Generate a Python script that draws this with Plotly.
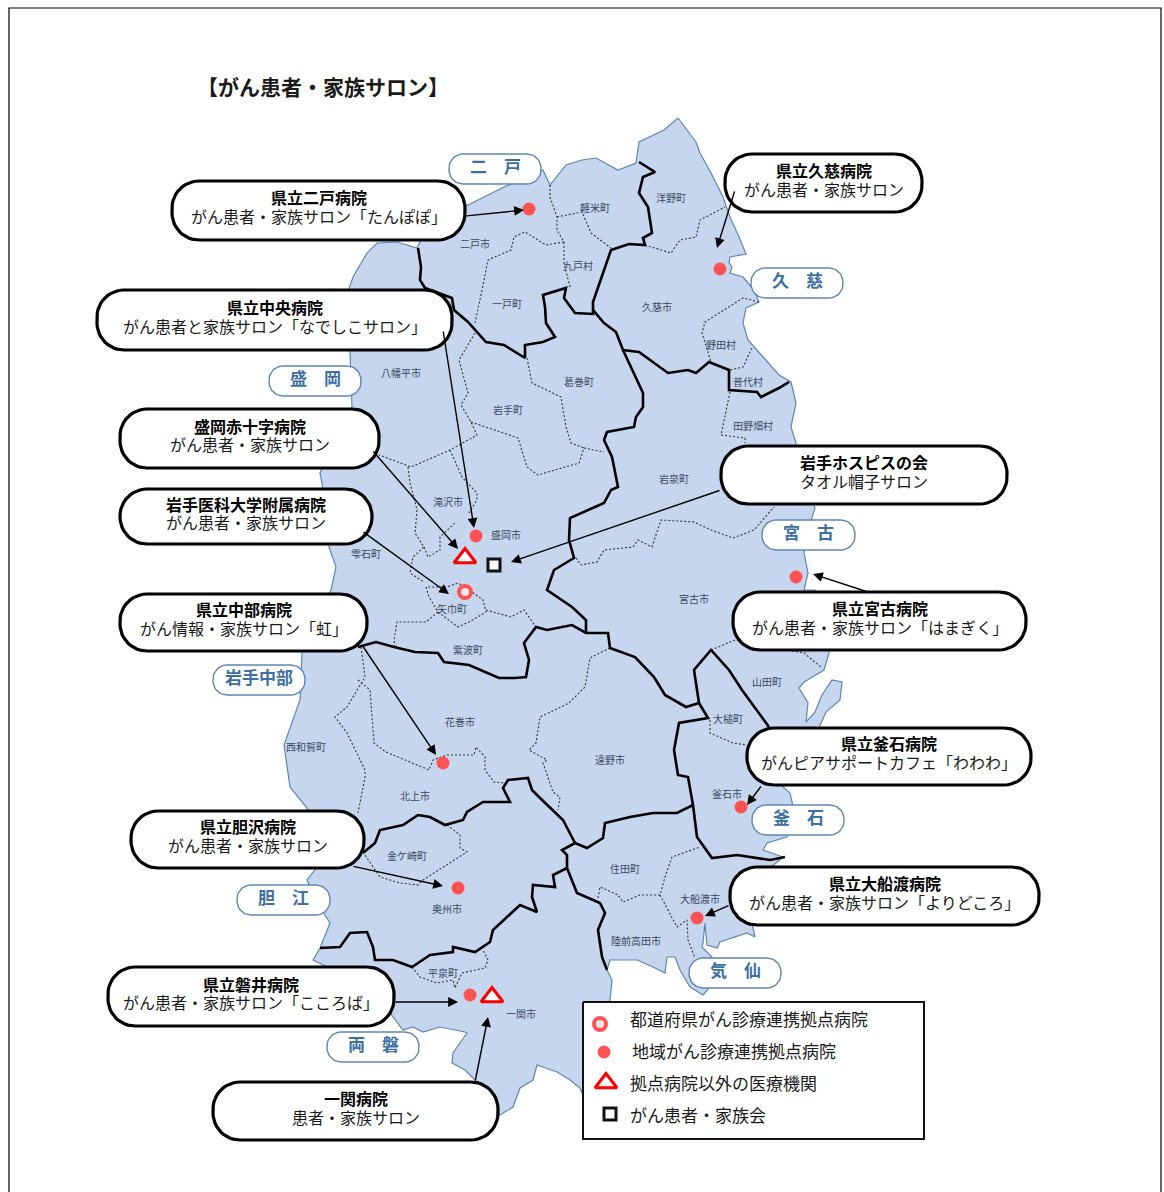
import math
import plotly.graph_objects as go

FONT = "Liberation Sans, Noto Sans CJK JP"
LAND = "#C5D6EE"
COAST = "#5E86B4"
RED = "#FF5252"
TXT = "#111111"

title = "【がん患者・家族サロン】"

outline = [(678,118),(696,142),(700,153),(711,173),(723,197),(730,217),(739,237),(746,254),(730,257),(729,263),(732,267),(730,273),(743,277),(754,290),(759,302),(746,308),(743,323),(748,340),(764,358),(779,375),(791,382),(796,403),(791,427),(796,443),(800,470),(815,508),(808,530),(804,553),(808,573),(804,590),(815,590),(825,610),(829,653),(824,670),(804,682),(799,688),(808,703),(806,722),(815,712),(822,695),(832,680),(842,682),(840,700),(826,712),(818,730),(780,770),(783,787),(790,793),(795,815),(787,837),(767,843),(763,850),(783,857),(770,868),(745,880),(750,915),(755,937),(747,933),(720,942),(717,948),(707,945),(705,923),(703,943),(702,947),(712,957),(720,975),(703,995),(690,987),(680,970),(675,957),(667,957),(665,973),(653,967),(637,960),(610,960),(607,970),(612,980),(610,1000),(590,1040),(582,1093),(580,1088),(570,1080),(557,1072),(537,1065),(533,1080),(520,1088),(513,1107),(500,1115),(475,1080),(465,1070),(452,1063),(453,1053),(467,1033),(465,1032),(440,1027),(423,1032),(413,1027),(403,1030),(393,1017),(375,990),(313,960),(320,948),(330,923),(325,915),(307,880),(320,863),(307,808),(290,787),(284,745),(300,700),(302,653),(331,590),(336,567),(329,547),(322,483),(320,473),(335,440),(352,407),(350,353),(345,300),(353,277),(367,253),(377,243),(397,242),(417,248),(420,242),(464,207),(504,187),(543,170),(550,185),(566,165),(582,160),(596,158),(618,170),(636,163),(639,142),(664,130),(678,118)]

thick_borders = [
 [(418,248),(421,267),(420,280),(425,288),(452,298),(454,310),(468,322),(486,342),(504,345),(525,358),(525,345),(543,342),(555,337),(546,323),(545,307),(543,295),(566,288),(564,298),(575,313),(593,314),(593,302),(604,270),(611,250),(629,244),(645,245),(643,238),(652,233),(648,207),(639,193),(643,177),(655,172),(639,162)],
 [(593,310),(604,323),(616,332),(623,350),(639,352),(668,373),(688,370),(696,373),(709,362),(729,370),(729,390),(757,392),(761,397),(779,388),(789,382)],
 [(623,350),(643,393),(643,407),(636,417),(634,427),(607,432),(604,440),(612,457),(618,487),(611,490),(604,503),(570,518),(569,540),(574,558),(554,570),(547,590),(572,607),(586,620),(586,632)],
 [(358,647),(376,642),(394,647),(415,652),(438,653),(444,662),(469,665),(499,678),(515,678),(526,677),(529,660),(524,643),(536,627),(547,630),(572,625),(586,633),(608,633),(610,648),(635,657),(654,677),(665,695),(686,707),(699,703)],
 [(699,703),(694,670),(711,650),(729,670),(742,690),(754,707),(769,727)],
 [(699,703),(708,718),(679,723),(674,750),(678,775),(688,777),(693,805),(695,822),(697,837),(712,858),(737,855),(770,860),(785,857)],
 [(693,805),(677,813),(653,813),(630,817),(605,823),(603,838),(587,848),(575,843),(562,850),(567,855),(567,868)],
 [(567,868),(577,893),(600,903),(605,913),(598,930),(602,957),(607,970)],
 [(567,868),(553,875),(555,887),(533,885),(532,897),(537,912),(520,905),(493,930),(490,942),(475,952),(453,947),(453,952),(430,955),(412,967),(393,960),(375,960),(373,947),(367,932),(350,933),(340,947),(320,948)],
 [(575,843),(563,820),(540,798),(532,790),(528,778),(508,780),(503,788),(510,802),(483,802),(467,812),(463,820),(445,825),(430,817),(418,815),(403,825),(380,830),(375,843),(363,853)],
]

dashed_borders = [
 [(550,185),(550,197),(557,217),(557,230),(564,242),(564,263),(570,287)],
 [(557,217),(582,212),(591,233),(611,248)],
 [(564,242),(546,245),(525,232),(514,237),(511,250),(488,260),(482,290),(475,323)],
 [(645,245),(671,253),(680,240),(696,237),(700,220),(725,207)],
 [(759,302),(743,298),(705,322),(702,333),(711,362)],
 [(752,348),(743,367),(730,370)],
 [(730,392),(723,427),(721,435),(745,438),(745,443)],
 [(475,333),(459,360),(468,393),(461,405),(471,422),(477,435),(450,450),(411,467),(379,455)],
 [(471,422),(518,438),(527,467),(538,475),(579,463),(584,448),(604,452)],
 [(527,358),(532,383),(561,397),(566,427),(571,443),(584,448)],
 [(408,467),(410,483),(417,510),(415,533),(424,547),(413,557),(410,573),(424,582)],
 [(424,547),(428,557),(440,550),(440,537),(456,522)],
 [(450,450),(462,477),(477,493),(477,500),(469,513)],
 [(426,587),(429,597),(438,612),(426,622),(397,622),(394,640),(395,647)],
 [(438,612),(458,627),(469,622),(486,612),(483,600),(472,592),(458,583),(447,587),(426,587)],
 [(486,610),(511,617),(524,610),(536,627)],
 [(576,558),(581,565),(597,562),(604,550),(633,547),(638,540),(652,547),(661,520),(694,522),(711,530),(733,538),(754,530),(774,507)],
 [(711,650),(735,640),(804,653),(822,668)],
 [(361,647),(365,677),(347,707),(335,717),(347,733),(365,770),(365,777),(358,813)],
 [(358,680),(370,690),(374,743),(386,752),(429,770),(433,760),(447,755),(474,755),(476,747),(485,757),(485,770),(494,782),(504,783)],
 [(610,648),(590,658),(585,687),(569,703),(540,717),(536,743),(529,750),(547,760),(543,763),(553,792),(560,797),(558,810)],
 [(447,825),(460,835),(460,848),(467,852),(423,880),(418,885),(400,883),(380,877),(365,855)],
 [(412,967),(420,977),(437,983),(453,980),(455,988),(462,973),(485,968),(488,960),(483,950)],
 [(598,898),(600,887),(618,895),(623,902),(640,895),(660,895),(665,877),(672,857),(700,847)],
 [(660,895),(677,927),(687,920),(688,940),(695,958)],
 [(710,720),(710,733),(733,743),(747,745)],
]

towns = [("軽米町",595,208),("洋野町",671,198),("二戸市",475,244),("九戸村",578,266),("一戸町",507,304),("久慈市",657,307),("野田村",721,345),("普代村",748,382),("田野畑村",753,426),("八幡平市",401,373),("岩手町",508,410),("葛巻町",579,382),("岩泉町",674,479),("滝沢市",448,502),("盛岡市",506,535),("雫石町",366,554),("宮古市",694,599),("矢巾町",452,609),("紫波町",468,650),("山田町",767,682),("大槌町",728,719),("花巻市",460,722),("遠野市",610,760),("西和賀町",306,747),("釜石市",727,794),("北上市",415,796),("金ケ崎町",407,856),("住田町",625,869),("大船渡市",700,899),("奥州市",447,909),("陸前高田市",636,941),("平泉町",443,973),("一関市",521,1014)]

areas = [("二　戸",449,541,154,184),("久　慈",751,843,268,298),("盛　岡",269,361,366,396),("宮　古",762,855,520,550),("岩手中部",213,305,665,695),("釜　石",752,844,805,835),("胆　江",237,330,885,915),("気　仙",689,781,958,988),("両　磐",327,419,1032,1062)]

callouts = [
 ("県立二戸病院","がん患者・家族サロン「たんぽぽ」",172,465,181,240,(465,216),(524,210)),
 ("県立中央病院","がん患者と家族サロン「なでしこサロン」",97,452,290,350,(443,330),(474,528)),
 ("盛岡赤十字病院","がん患者・家族サロン",120,379,409,468,(372,450),(458,549)),
 ("岩手医科大学附属病院","がん患者・家族サロン",120,372,489,544,(362,531),(449,594)),
 ("県立中部病院","がん情報・家族サロン「虹」",120,367,594,651,(362,645),(436,755)),
 ("県立胆沢病院","がん患者・家族サロン",131,364,811,868,(352,866),(443,886)),
 ("県立磐井病院","がん患者・家族サロン「こころば」",108,394,967,1026,(394,1002),(458,1002)),
 ("一関病院","患者・家族サロン",213,498,1082,1140,(475,1082),(488,1017)),
 ("県立久慈病院","がん患者・家族サロン",725,922,154,212,(735,190),(717,248)),
 ("岩手ホスピスの会","タオル帽子サロン",721,1007,446,504,(721,490),(511,562)),
 ("県立宮古病院","がん患者・家族サロン「はまぎく」",733,1026,592,650,(868,592),(813,574)),
 ("県立釜石病院","がんピアサポートカフェ「わわわ」",747,1031,728,785,(762,785),(747,805)),
 ("県立大船渡病院","がん患者・家族サロン「よりどころ」",730,1039,867,925,(730,905),(705,916)),
]

dots = [(529,209),(720,269),(476,536),(796,577),(443,763),(741,807),(458,888),(697,918),(470,995)]
rings = [(465,592)]
triangles = [(465,558),(492,997)]
squares = [(494,565)]

legend_box = (583,924,1002,1139)
legend_rows = [("都道府県がん診療連携拠点病院",628,1020,"ring",600,1024),("地域がん診療連携拠点病院",630,1052,"dot",604,1052),("拠点病院以外の医療機関",628,1084,"tri",606,1083),("がん患者・家族会",628,1116,"sq",610,1114)]

frame_x = [9,9,1161,1161]
frame_y = [1192,8,8,1192]


def rrect(x0, x1, y0, y1, r):
    xs, ys = [], []
    corners = [(x1-r,y0+r,-90),(x1-r,y1-r,0),(x0+r,y1-r,90),(x0+r,y0+r,180)]
    for cx, cy, a0 in corners:
        for k in range(13):
            a = math.radians(a0 + k*7.5)
            xs.append(cx + r*math.cos(a)); ys.append(cy + r*math.sin(a))
    xs.append(xs[0]); ys.append(ys[0])
    return xs, ys


fig = go.Figure()
S = dict(hoverinfo="skip", showlegend=False)


def line(pts, **kw):
    fig.add_trace(go.Scatter(x=[p[0] for p in pts], y=[p[1] for p in pts], mode="lines", **S, **kw))


fig.add_trace(go.Scatter(x=frame_x, y=frame_y, mode="lines", line=dict(color="#000", width=1.2), **S))
line(outline, fill="toself", fillcolor=LAND, line=dict(color=COAST, width=1.2))
for b in dashed_borders:
    line(b, line=dict(color="#333", width=1.1, dash="2px,2px"))
for b in thick_borders:
    line(b, line=dict(color="#000", width=2.6))

for name, x0, x1, y0, y1 in areas:
    xs, ys = rrect(x0, x1, y0, y1, 14)
    fig.add_trace(go.Scatter(x=xs, y=ys, mode="lines", fill="toself", fillcolor="white", line=dict(color=COAST, width=1.4), **S))
for c in callouts:
    xs, ys = rrect(c[2], c[3], c[4], c[5], 27)
    fig.add_trace(go.Scatter(x=xs, y=ys, mode="lines", fill="toself", fillcolor="white", line=dict(color="#000", width=3.2), **S))

lx0, lx1, ly0, ly1 = legend_box
fig.add_trace(go.Scatter(x=[lx0,lx1,lx1,lx0,lx0], y=[ly0,ly0,ly1,ly1,ly0], mode="lines", fill="toself", fillcolor="white", line=dict(color="#111", width=2), **S))

styles = {
 "dot": dict(symbol="circle", size=13, color=RED, line=dict(width=0)),
 "ring": dict(symbol="circle", size=12, color="#F3E8EA", line=dict(color=RED, width=4)),
 "tri": dict(symbol="triangle-up", size=19, color="white", line=dict(color="#FF0000", width=3)),
 "sq": dict(symbol="square", size=12, color="white", line=dict(color="#111", width=3)),
}
groups = {"dot": dots, "ring": rings, "tri": triangles, "sq": squares}
for key, pts in groups.items():
    px = [p[0] for p in pts] + [r[4] for r in legend_rows if r[3] == key]
    py = [p[1] for p in pts] + [r[5] for r in legend_rows if r[3] == key]
    fig.add_trace(go.Scatter(x=px, y=py, mode="markers", marker=styles[key], **S))

ann = []


def text(t, x, y, size, color=TXT, anchor="center"):
    ann.append(dict(x=x, y=y, xref="x", yref="y", text=t, showarrow=False,
                    xanchor=anchor, yanchor="middle", font=dict(family=FONT, size=size, color=color)))


text(f"<b>{title}</b>", 323, 87, 21, "#1a1a1a")
for t, x, y in towns:
    text(t, x, y, 10, "#3a4660")
for name, x0, x1, y0, y1 in areas:
    text(f"<b>{name}</b>", (x0+x1)/2, (y0+y1)/2 - 2, 17, "#3E6FA3")
for c in callouts:
    cx = (c[2]+c[3])/2
    cy = (c[4]+c[5])/2
    text(f"<b>{c[0]}</b>", cx, cy - 12, 16, "#000")
    text(c[1], cx, cy + 7, 16, "#1a1a1a")
    ann.append(dict(x=c[7][0], y=c[7][1], ax=c[6][0], ay=c[6][1], xref="x", yref="y", axref="x", ayref="y",
                    text="", showarrow=True, arrowhead=2, arrowsize=1.4, arrowwidth=1.4, arrowcolor="#000"))
for r in legend_rows:
    text(r[0], r[1], r[2], 17, "#1a1a1a", anchor="left")

fig.update_layout(
    width=1164, height=1192, margin=dict(l=0, r=0, t=0, b=0),
    paper_bgcolor="white", plot_bgcolor="white", annotations=ann, showlegend=False,
    xaxis=dict(range=[0,1164], visible=False, fixedrange=True),
    yaxis=dict(range=[1192,0], visible=False, fixedrange=True),
)
fig.write_html("out.html", config=dict(displayModeBar=False),
               post_script="document.body.style.margin='0';document.body.style.overflow='hidden';")
